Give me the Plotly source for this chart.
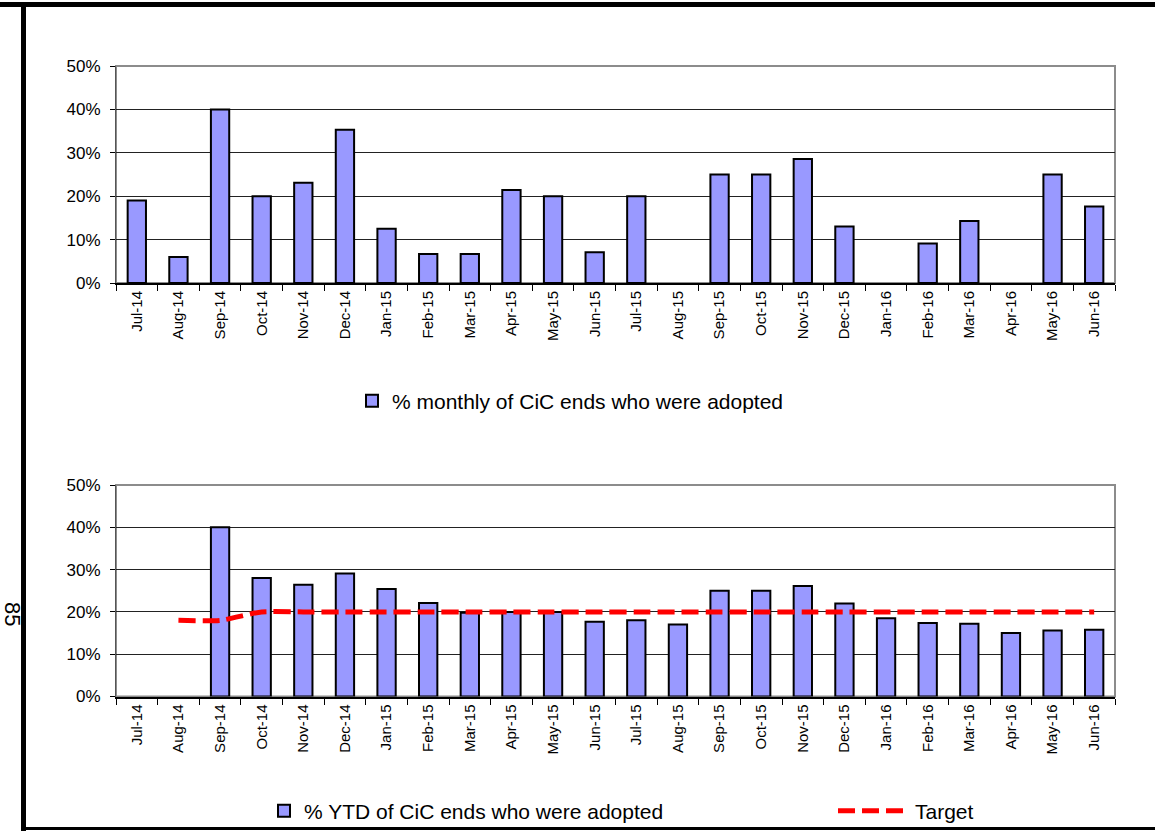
import plotly.graph_objects as go

months = ["Jul-14", "Aug-14", "Sep-14", "Oct-14", "Nov-14", "Dec-14", "Jan-15", "Feb-15",
          "Mar-15", "Apr-15", "May-15", "Jun-15", "Jul-15", "Aug-15", "Sep-15", "Oct-15",
          "Nov-15", "Dec-15", "Jan-16", "Feb-16", "Mar-16", "Apr-16", "May-16", "Jun-16"]

monthly_pct = [0.19, 0.06, 0.40, 0.20, 0.231, 0.353, 0.125, 0.067, 0.067, 0.214, 0.20, 0.071,
               0.20, 0.0, 0.25, 0.25, 0.286, 0.13, 0.0, 0.091, 0.143, 0.0, 0.25, 0.176]

ytd_pct = [None, None, 0.40, 0.28, 0.264, 0.291, 0.254, 0.221, 0.198, 0.20, 0.20, 0.177,
           0.18, 0.17, 0.25, 0.25, 0.261, 0.22, 0.185, 0.174, 0.172, 0.15, 0.156, 0.158]

target = [None, 0.18, 0.18, 0.20, 0.20, 0.20, 0.20, 0.20, 0.20, 0.20, 0.20, 0.20,
          0.20, 0.20, 0.20, 0.20, 0.20, 0.20, 0.20, 0.20, 0.20, 0.20, 0.20, 0.20]

y_ticks = [0, 0.1, 0.2, 0.3, 0.4, 0.5]
y_labels = ["0%", "10%", "20%", "30%", "40%", "50%"]

BAR_FILL = "#9999FF"
FONT = "Liberation Sans, Arial, sans-serif"
W, H = 1155, 831


def px(x):
    return x / W


def py(y):
    return 1 - y / H


fig = go.Figure()

fig.add_trace(go.Bar(
    x=months, y=monthly_pct, name="% monthly of CiC ends who were adopted",
    marker=dict(color=BAR_FILL,
                line=dict(color="black", width=[2 if v > 0 else 0 for v in monthly_pct])),
    xaxis="x", yaxis="y", legend="legend",
))

fig.add_trace(go.Bar(
    x=months, y=ytd_pct, name="% YTD of CiC ends who were adopted",
    marker=dict(color=BAR_FILL, line=dict(color="black", width=2)),
    xaxis="x2", yaxis="y2", legend="legend2",
))

fig.add_trace(go.Scatter(
    x=months, y=target, name="Target", mode="lines",
    line=dict(color="#FF0000", width=5, dash="17px,7px", shape="spline", smoothing=0.6),
    xaxis="x2", yaxis="y2", legend="legend3",
))

x_dom = [px(116), px(1115)]
top_dom = [py(283), py(66)]
bot_dom = [py(696.5), py(485)]

xaxis_common = dict(
    type="category", tickson="boundaries", ticks="outside", ticklen=6,
    tickcolor="black", tickwidth=1, showline=True, linecolor="black", linewidth=2,
    tickangle=-90, tickfont=dict(family=FONT, size=15, color="black"),
    showgrid=False, domain=x_dom, fixedrange=True,
)
yaxis_common = dict(
    range=[0, 0.5], tickvals=y_ticks, ticktext=y_labels, ticks="outside", ticklen=5,
    tickcolor="black", showline=True, linecolor="#555555", linewidth=1,
    showgrid=True, gridcolor="#222222", gridwidth=1, zeroline=False,
    ticklabelstandoff=6,
    tickfont=dict(family=FONT, size=17, color="black"), fixedrange=True,
)

legend_font = dict(family=FONT, size=21, color="black")

fig.update_layout(
    width=W, height=H,
    margin=dict(l=0, r=0, t=0, b=0, autoexpand=False),
    paper_bgcolor="white", plot_bgcolor="white",
    bargap=0.56,
    showlegend=True,
    xaxis=dict(**xaxis_common, anchor="y"),
    yaxis=dict(**yaxis_common, domain=top_dom, anchor="x"),
    xaxis2=dict(**xaxis_common, anchor="y2"),
    yaxis2=dict(**yaxis_common, domain=bot_dom, anchor="x2"),
    legend=dict(x=px(352), y=py(401), xanchor="left", yanchor="middle",
                font=legend_font, bgcolor="rgba(0,0,0,0)", itemwidth=30),
    legend2=dict(x=px(264), y=py(811), xanchor="left", yanchor="middle",
                 font=legend_font, bgcolor="rgba(0,0,0,0)", itemwidth=30),
    legend3=dict(x=px(833), y=py(811), xanchor="left", yanchor="middle",
                 font=legend_font, bgcolor="rgba(0,0,0,0)", itemwidth=72),
)

# plot-area frames (gray top/right edges)
for xr, yr in (("x domain", "y domain"), ("x2 domain", "y2 domain")):
    fig.add_shape(type="rect", xref=xr, yref=yr, x0=0, x1=1, y0=0, y1=1,
                  line=dict(color="#8C8C8C", width=2), layer="below")

# page border
fig.add_shape(type="line", xref="paper", yref="paper", x0=0, x1=1, y0=py(4.5), y1=py(4.5),
              line=dict(color="black", width=5))
fig.add_shape(type="line", xref="paper", yref="paper", x0=px(23.5), x1=px(23.5), y0=0, y1=py(2),
              line=dict(color="black", width=5))
fig.add_shape(type="line", xref="paper", yref="paper", x0=px(21), x1=1, y0=py(828.5), y1=py(828.5),
              line=dict(color="black", width=3))

# page number
fig.add_annotation(text="85", xref="paper", yref="paper", x=px(13), y=py(614),
                   xanchor="center", yanchor="middle",
                   showarrow=False, textangle=90,
                   font=dict(family=FONT, size=22, color="black"))

fig.write_html("out.html", config={"displayModeBar": False},
               post_script="document.body.style.margin='0';")
